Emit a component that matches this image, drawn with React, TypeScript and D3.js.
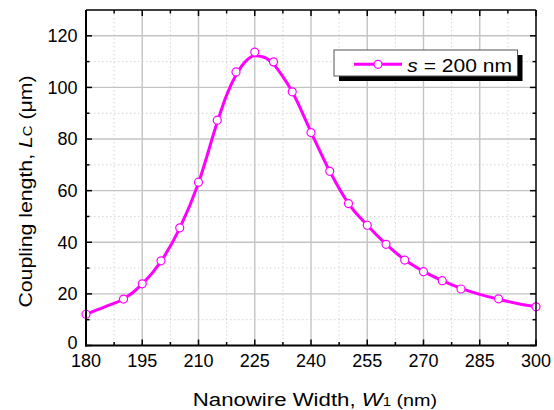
import React from "react";
import * as d3 from "d3";

const markerW = [180, 190, 195, 200, 205, 210, 215, 220, 225, 230, 235, 240, 245, 250, 255, 260, 265, 270, 275, 280, 290, 300];
const markerL = [12.1, 18.0, 23.9, 32.8, 45.6, 63.3, 87.3, 106.0, 113.7, 109.9, 98.3, 82.5, 67.5, 55.0, 46.6, 39.2, 33.1, 28.6, 25.1, 21.9, 18.1, 15.0];

const fitW = [180, 185, 190, 195, 200, 205, 210, 215, 217.5, 220, 222.5, 225, 227.5, 230, 232.5, 235, 240, 245, 250, 255, 260, 265, 270, 275, 280, 285, 290, 295, 300];
const fitL = [12.2, 15.0, 18.0, 23.8, 32.6, 45.5, 63.0, 86.5, 97.0, 104.8, 110.0, 112.3, 111.7, 109.0, 104.2, 98.3, 82.7, 67.5, 55.0, 46.6, 39.3, 33.2, 28.7, 25.1, 22.1, 19.8, 17.9, 16.3, 15.0];

const xTicks = [180, 195, 210, 225, 240, 255, 270, 285, 300];
const yTicks = [0, 20, 40, 60, 80, 100, 120];

const W = 554;
const H = 410;
const L = 86, R = 536, T = 10, B = 345.5;
const FONT = "'Liberation Sans', Arial, Helvetica, sans-serif";
const MAG = "#FF00FF";

export default function App() {
  const x = d3.scaleLinear().domain([180, 300]).range([L, R]);
  const y = d3.scaleLinear().domain([0, 130]).range([B, T]);

  const xMinor = d3.range(180 + 7.5, 300, 15);
  const yMinor = d3.range(10, 130, 10).filter((v) => v % 20 !== 0);
  const xMajorInner = xTicks.filter((v) => v > 180 && v < 300);
  const yMajorInner = yTicks.filter((v) => v > 0);

  const line = d3
    .line<number>()
    .x((_, i) => x(fitW[i]))
    .y((d) => y(d))
    .curve(d3.curveMonotoneX);

  const path = line(fitL) || "";

  return (
    <svg width={W} height={H} style={{ position: "absolute", left: 0, top: 0, background: "#fff" }} fontFamily={FONT}>
      <rect x={0} y={0} width={W} height={H} fill="#fff" />
      <defs>
        <clipPath id="plotclip">
          <rect x={L - 6} y={T} width={R - L + 12} height={B - T + 6} />
        </clipPath>
      </defs>
      {/* minor grid */}
      {xMinor.map((v) => (
        <line key={"xm" + v} x1={x(v)} x2={x(v)} y1={T} y2={B} stroke="#d4d4d4" strokeWidth={1} strokeDasharray="1.5,2.5" />
      ))}
      {yMinor.map((v) => (
        <line key={"ym" + v} x1={L} x2={R} y1={y(v)} y2={y(v)} stroke="#d4d4d4" strokeWidth={1} strokeDasharray="1.5,2.5" />
      ))}
      {/* major grid */}
      {xMajorInner.map((v) => (
        <line key={"xg" + v} x1={x(v)} x2={x(v)} y1={T} y2={B} stroke="#c4c4c4" strokeWidth={1.4} />
      ))}
      {yMajorInner.map((v) => (
        <line key={"yg" + v} x1={L} x2={R} y1={y(v)} y2={y(v)} stroke="#c4c4c4" strokeWidth={1.4} />
      ))}

      {/* ticks */}
      {xTicks.map((v) => (
        <g key={"xt" + v}>
          <line x1={x(v)} x2={x(v)} y1={B} y2={B - 6} stroke="#000" strokeWidth={1.5} />
          <line x1={x(v)} x2={x(v)} y1={T} y2={T + 6} stroke="#000" strokeWidth={1.5} />
        </g>
      ))}
      {xMinor.map((v) => (
        <g key={"xmt" + v}>
          <line x1={x(v)} x2={x(v)} y1={B} y2={B - 3.5} stroke="#000" strokeWidth={1.5} />
          <line x1={x(v)} x2={x(v)} y1={T} y2={T + 3.5} stroke="#000" strokeWidth={1.5} />
        </g>
      ))}
      {yTicks.map((v) => (
        <g key={"yt" + v}>
          <line x1={L} x2={L + 6} y1={y(v)} y2={y(v)} stroke="#000" strokeWidth={1.5} />
          <line x1={R} x2={R - 6} y1={y(v)} y2={y(v)} stroke="#000" strokeWidth={1.5} />
        </g>
      ))}
      {yMinor.map((v) => (
        <g key={"ymt" + v}>
          <line x1={L} x2={L + 3.5} y1={y(v)} y2={y(v)} stroke="#000" strokeWidth={1.5} />
          <line x1={R} x2={R - 3.5} y1={y(v)} y2={y(v)} stroke="#000" strokeWidth={1.5} />
        </g>
      ))}

      {/* data */}
      <g clipPath="url(#plotclip)">
        <path d={path} fill="none" stroke={MAG} strokeWidth={3} />
        {markerW.map((w, i) => (
          <circle key={"m" + w} cx={x(w)} cy={y(markerL[i])} r={4} fill="#fff" stroke={MAG} strokeWidth={1.2} />
        ))}
      </g>

      {/* frame */}
      <line x1={L} x2={R} y1={T} y2={T} stroke="#000" strokeWidth={1.5} />
      <line x1={R} x2={R} y1={T} y2={B} stroke="#000" strokeWidth={1.5} />
      <line x1={L} x2={L} y1={T} y2={B + 1} stroke="#000" strokeWidth={2} />
      <line x1={L - 1} x2={R + 0.75} y1={B} y2={B} stroke="#000" strokeWidth={2} />

      {/* tick labels */}
      {xTicks.map((v) => (
        <text key={"xl" + v} x={x(v)} y={367} textAnchor="middle" fontSize={18} fill="#000">
          {v}
        </text>
      ))}
      {yTicks.map((v) => (
        <text key={"yl" + v} x={77.5} y={v === 0 ? 349.3 : y(v) + 6.3} textAnchor="end" fontSize={18} fill="#000">
          {v}
        </text>
      ))}

      {/* axis titles */}
      <g transform="translate(315,405.5) scale(1.2,1)">
        <text x={0} y={0} textAnchor="middle" fontSize={18.5} fill="#000">
          Nanowire Width, <tspan fontStyle="italic">W</tspan>
          <tspan fontSize={12.5}>1</tspan>
          <tspan fontSize={16.5}> (nm)</tspan>
        </text>
      </g>
      <g transform="translate(31.7,191.5) rotate(-90) scale(1.15,1)">
        <text x={0} y={0} textAnchor="middle" fontSize={18.5} fill="#000">
          Coupling length, <tspan fontStyle="italic">L</tspan>
          <tspan fontSize={13}>C</tspan>
          <tspan> (μm)</tspan>
        </text>
      </g>

      {/* legend */}
      <rect x={339} y={55} width={183.5} height={26} fill="#000" />
      <rect x={334} y={50} width={183.5} height={26} fill="#fff" stroke="#555" strokeWidth={1} />
      <line x1={354} x2={402} y1={64.3} y2={64.3} stroke={MAG} strokeWidth={3} />
      <circle cx={378} cy={64.3} r={4} fill="#fff" stroke={MAG} strokeWidth={1.2} />
      <g transform="translate(407.3,71.7) scale(1.17,1)">
        <text x={0} y={0} fontSize={18} fill="#000">
          <tspan fontStyle="italic">s</tspan> = 200 nm
        </text>
      </g>
    </svg>
  );
}
